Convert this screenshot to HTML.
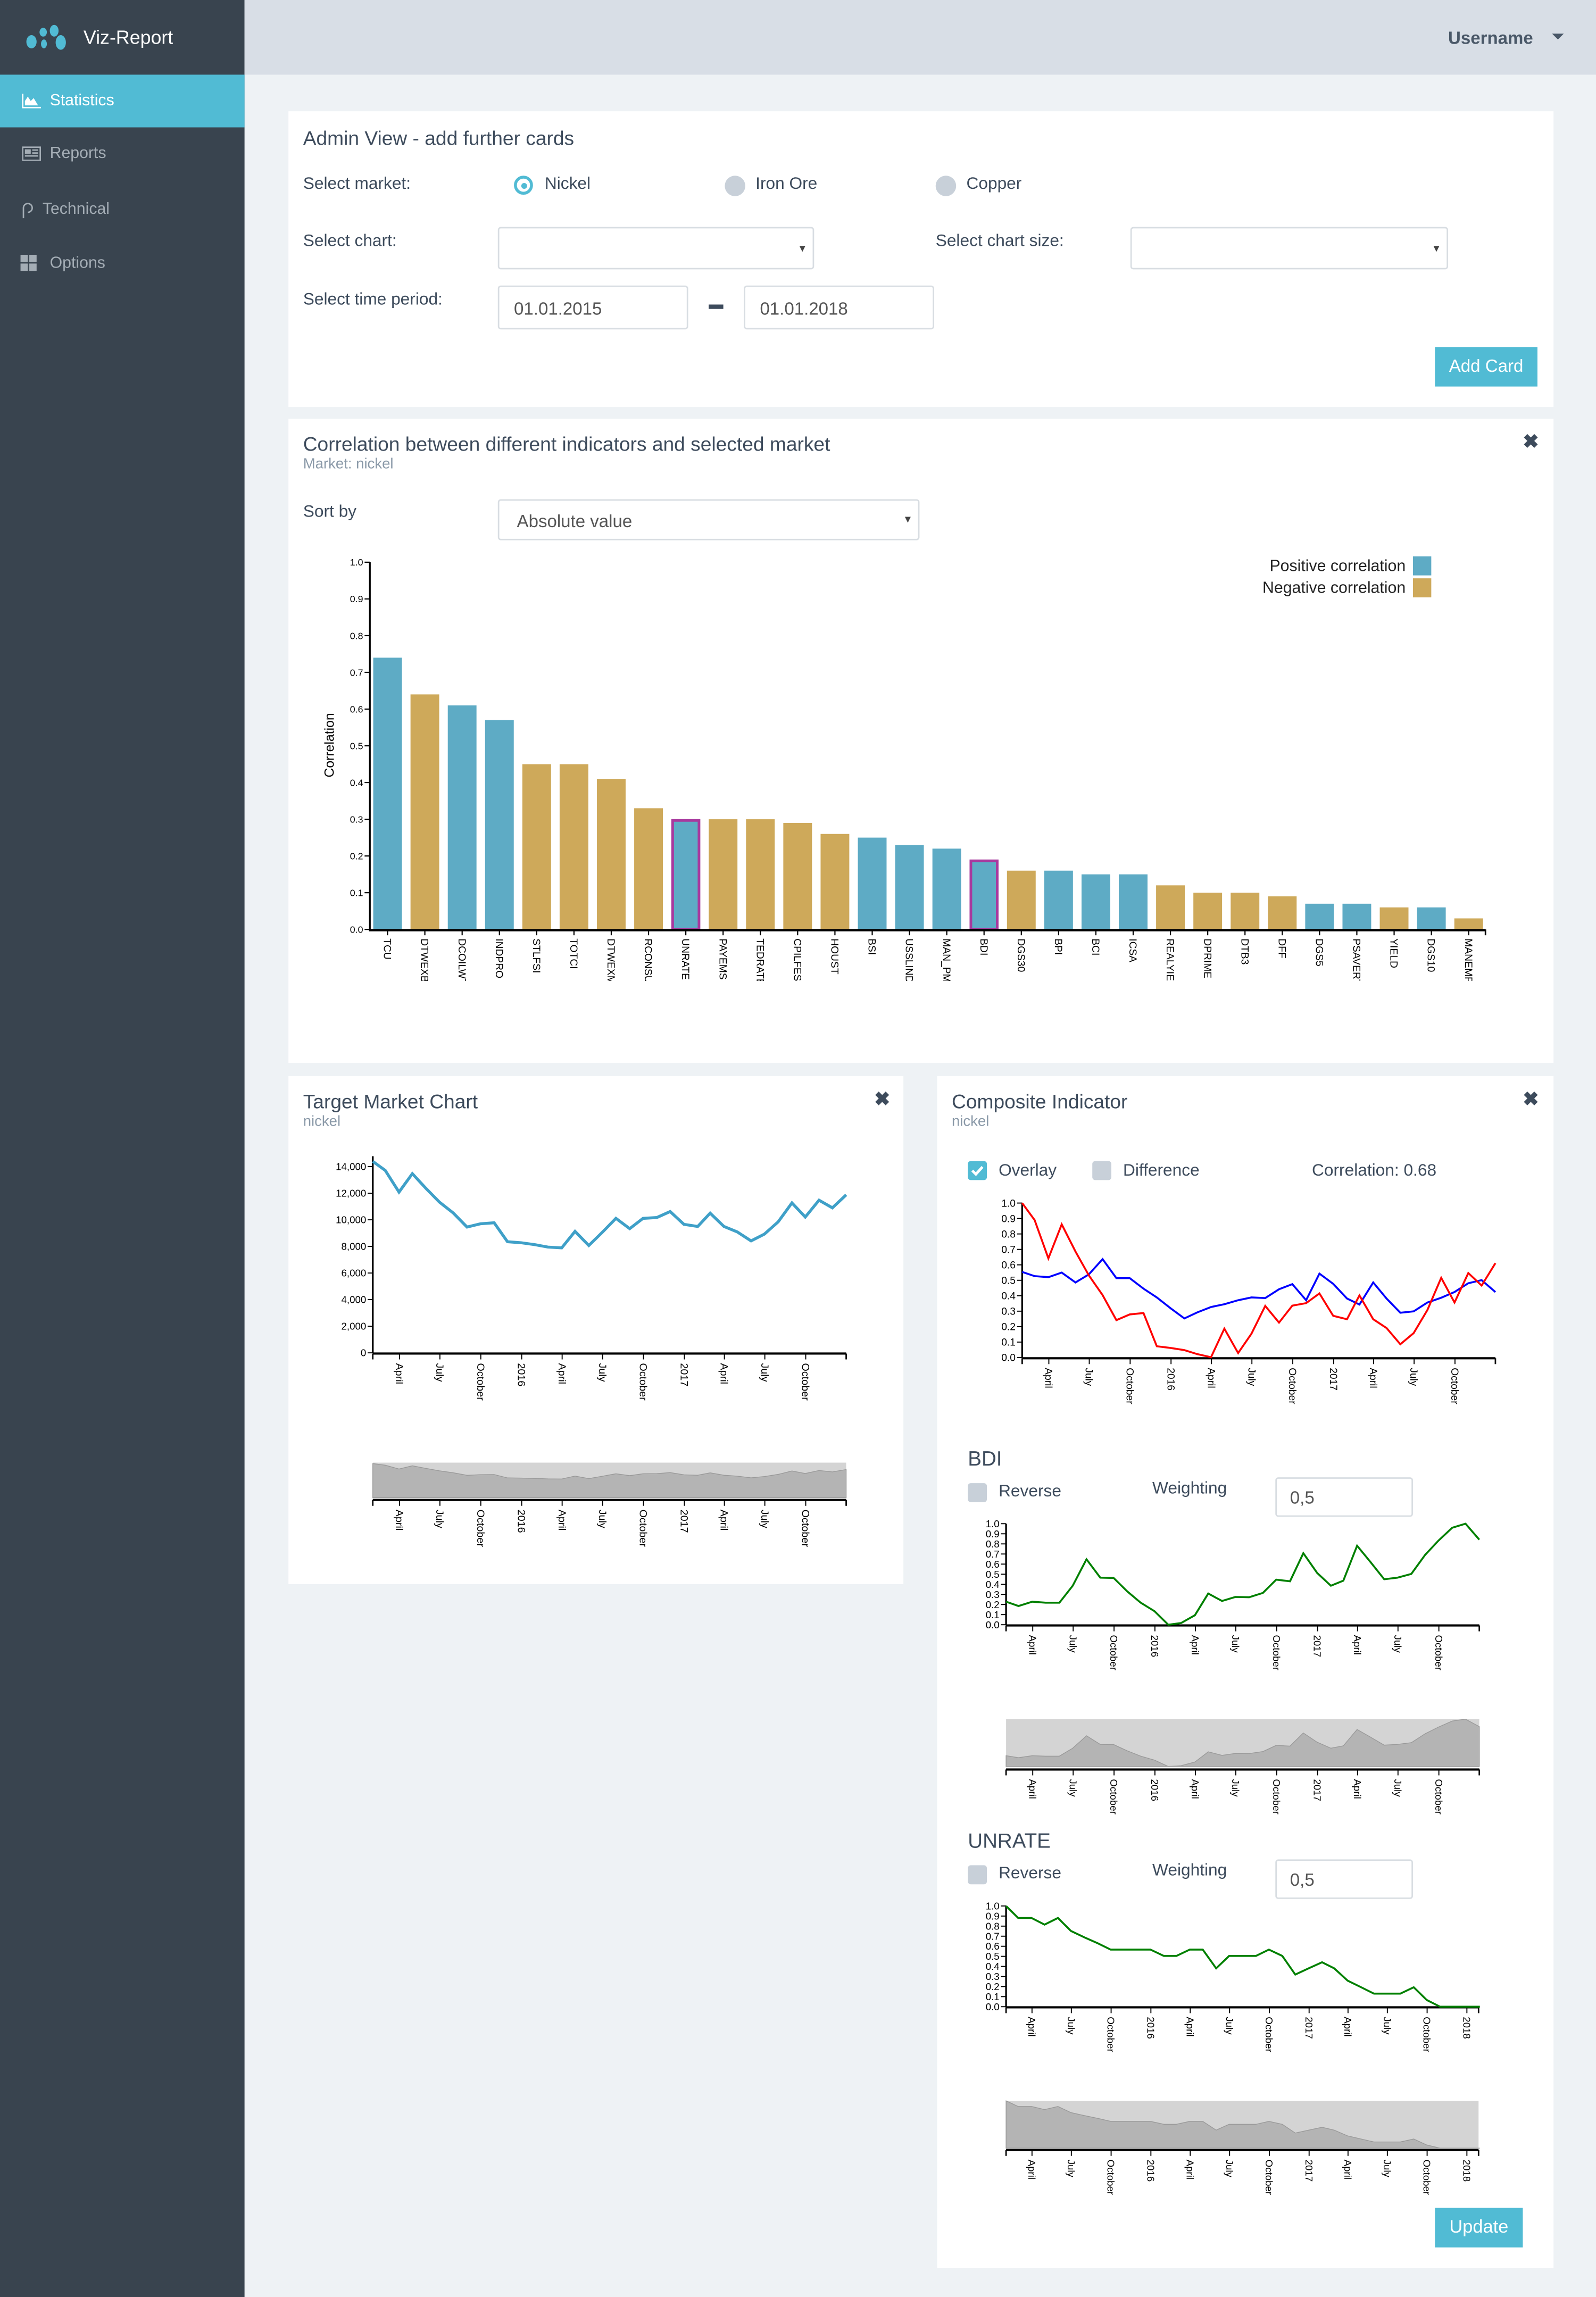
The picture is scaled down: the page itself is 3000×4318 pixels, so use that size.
<!DOCTYPE html>
<html><head><meta charset="utf-8">
<style>
html,body{margin:0;padding:0;width:3000px;height:4316px;overflow:hidden;background:#eef2f5;font-family:"Liberation Sans",sans-serif}
#root{position:absolute;left:0;top:0;width:1090px;height:1568.2px;transform:scale(2.752294);transform-origin:0 0;background:#eef2f5}
.abs{position:absolute}
.side{left:0;top:0;width:167px;height:1569px;background:#39444f}
.top{left:167px;top:0;width:923px;height:51px;background:#d8dee6}
.nav{left:0;width:167px;height:36px;color:#a4adb5;font-size:11px;line-height:36px}
.nav span{position:absolute;left:34px}
.card{background:#fff}
.t{color:#3d4b5c;white-space:nowrap}
.h{font-size:13.5px}
.lab{font-size:11.5px}
.sub{font-size:10px;color:#8a99a8}
.box{border:1px solid #d8dde2;border-radius:2px;background:#fff;box-sizing:border-box;font-size:12px;color:#555}
.caret{position:absolute;right:5px;top:10px;width:0;height:0;border-left:2.5px solid transparent;border-right:2.5px solid transparent;border-top:4px solid #444}
.cb{width:13px;height:13px;border-radius:2px;background:#c8d0d9}
.btn{background:#51bbd4;color:#fff;font-size:12px;text-align:center}
.x{font-size:13px;color:#3d4b5c;font-weight:bold}
svg text{font-family:"Liberation Sans",sans-serif}
</style></head><body>
<div id="root">
<div class="abs side"></div>
<div class="abs" style="left:18px;top:14px;width:35px;height:22px">
 <div class="abs" style="left:0;top:10px;width:7px;height:9px;border-radius:50%;background:#51bbd4"></div>
 <div class="abs" style="left:9px;top:5px;width:5px;height:6px;border-radius:50%;background:#51bbd4"></div>
 <div class="abs" style="left:10px;top:13px;width:4px;height:6px;border-radius:50%;background:#51bbd4"></div>
 <div class="abs" style="left:16px;top:3px;width:6px;height:8px;border-radius:50%;background:#51bbd4"></div>
 <div class="abs" style="left:20px;top:10px;width:7px;height:10px;border-radius:50%;background:#51bbd4"></div>
</div>
<div class="abs" style="left:57px;top:18px;color:#fff;font-size:13px">Viz-Report</div>
<div class="abs nav" style="top:51px;background:#51bbd4;color:#fff"><svg class="abs" style="left:15px;top:13px" width="13" height="10"><path d="M0,0V10H13V9H1V0Z M2,8L2,5L4,2L6,5L8,3L11,8Z" fill="#fff"/></svg><span>Statistics</span></div>
<div class="abs nav" style="top:87px"><svg class="abs" style="left:15px;top:13px" width="13" height="10"><rect x="0.5" y="0.5" width="12" height="9" fill="none" stroke="#a4adb5"/><rect x="2" y="2" width="4" height="3" fill="#a4adb5"/><path d="M7,2.5H11M7,4.5H11M2,6.5H11" stroke="#a4adb5"/></svg><span>Reports</span></div>
<div class="abs nav" style="top:125px"><svg class="abs" style="left:14px;top:12px" width="10" height="13"><path d="M2,12V5A3,3 0 1 1 5,8" fill="none" stroke="#a4adb5"/></svg><span style="left:29px">Technical</span></div>
<div class="abs nav" style="top:162px"><svg class="abs" style="left:14px;top:12px" width="12" height="12"><rect x="0" y="0" width="5" height="5" fill="#a4adb5"/><rect x="6" y="0" width="5" height="5" fill="#a4adb5"/><rect x="0" y="6" width="5" height="5" fill="#a4adb5"/><rect x="6" y="6" width="5" height="5" fill="#a4adb5"/></svg><span>Options</span></div>

<div class="abs top"></div>
<div class="abs t" style="left:989px;top:19px;font-size:12px;font-weight:bold;color:#4a5868">Username</div>
<div class="abs" style="left:1060px;top:23px;border-left:4px solid transparent;border-right:4px solid transparent;border-top:4px solid #4a5868"></div>

<!-- Card 1 -->
<div class="abs card" style="left:197px;top:76px;width:864px;height:202px"></div>
<div class="abs t h" style="left:207px;top:87px">Admin View - add further cards</div>
<div class="abs t lab" style="left:207px;top:120px">Select market:</div>
<div class="abs" style="left:351px;top:120px;width:9px;height:9px;border:2.5px solid #51bbd4;border-radius:50%;background:#fff"><div class="abs" style="left:2.5px;top:2.5px;width:4px;height:4px;border-radius:50%;background:#51bbd4"></div></div>
<div class="abs t lab" style="left:372px;top:120px">Nickel</div>
<div class="abs" style="left:495px;top:120px;width:14px;height:14px;border-radius:50%;background:#c8d0d9"></div>
<div class="abs t lab" style="left:516px;top:120px">Iron Ore</div>
<div class="abs" style="left:639px;top:120px;width:14px;height:14px;border-radius:50%;background:#c8d0d9"></div>
<div class="abs t lab" style="left:660px;top:120px">Copper</div>
<div class="abs t lab" style="left:207px;top:159px">Select chart:</div>
<div class="abs box" style="left:340px;top:155px;width:216px;height:29px"><div class="caret" style="top:12px"></div></div>
<div class="abs t lab" style="left:639px;top:159px">Select chart size:</div>
<div class="abs box" style="left:772px;top:155px;width:217px;height:29px"><div class="caret" style="top:12px"></div></div>
<div class="abs t lab" style="left:207px;top:199px">Select time period:</div>
<div class="abs box" style="left:340px;top:195px;width:130px;height:30px;padding:8px 10px">01.01.2015</div>
<div class="abs" style="left:484px;top:208px;width:10px;height:2.5px;background:#3d4b5c"></div>
<div class="abs box" style="left:508px;top:195px;width:130px;height:30px;padding:8px 10px">01.01.2018</div>
<div class="abs btn" style="left:980px;top:237px;width:70px;height:27px;line-height:27px">Add Card</div>

<!-- Card 2 -->
<div class="abs card" style="left:197px;top:286px;width:864px;height:440px"></div>
<div class="abs t h" style="left:207px;top:296px">Correlation between different indicators and selected market</div>
<div class="abs sub" style="left:207px;top:312px">Market: nickel</div>
<div class="abs x" style="left:1040px;top:294px">✖</div>
<div class="abs t lab" style="left:207px;top:344px">Sort by</div>
<div class="abs box" style="left:340px;top:341px;width:288px;height:28px;padding:7px 12px">Absolute value<div class="caret" style="top:11px"></div></div>

<!-- Card 3 -->
<div class="abs card" style="left:197px;top:735px;width:420px;height:347px"></div>
<div class="abs t h" style="left:207px;top:745px">Target Market Chart</div>
<div class="abs sub" style="left:207px;top:761px">nickel</div>
<div class="abs x" style="left:597px;top:743px">✖</div>

<!-- Card 4 -->
<div class="abs card" style="left:640px;top:735px;width:421px;height:814px"></div>
<div class="abs t h" style="left:650px;top:745px">Composite Indicator</div>
<div class="abs sub" style="left:650px;top:761px">nickel</div>
<div class="abs x" style="left:1040px;top:743px">✖</div>
<div class="abs cb" style="left:661px;top:793px;background:#51bbd4"><svg width="13" height="13" class="abs"><path d="M3,6.5L5.5,9L10,4" stroke="#fff" stroke-width="1.8" fill="none"/></svg></div>
<div class="abs t lab" style="left:682px;top:794px">Overlay</div>
<div class="abs cb" style="left:746px;top:793px"></div>
<div class="abs t lab" style="left:767px;top:794px">Difference</div>
<div class="abs t lab" style="left:896px;top:794px">Correlation: 0.68</div>
<div class="abs t" style="left:661px;top:988px;font-size:14px">BDI</div>
<div class="abs cb" style="left:661px;top:1013px"></div>
<div class="abs t lab" style="left:682px;top:1013px">Reverse</div>
<div class="abs t lab" style="left:787px;top:1011px">Weighting</div>
<div class="abs box" style="left:871px;top:1009px;width:94px;height:27px;padding:6px 9px">0,5</div>
<div class="abs t" style="left:661px;top:1249px;font-size:14px">UNRATE</div>
<div class="abs cb" style="left:661px;top:1274px"></div>
<div class="abs t lab" style="left:682px;top:1274px">Reverse</div>
<div class="abs t lab" style="left:787px;top:1272px">Weighting</div>
<div class="abs box" style="left:871px;top:1270px;width:94px;height:27px;padding:6px 9px">0,5</div>
<div class="abs btn" style="left:980px;top:1508px;width:60px;height:27px;line-height:27px;font-size:12.5px">Update</div>

<svg id="charts" class="abs" style="left:0;top:0" width="1090" height="1569"></svg>
</div>

<script>
// ---------- Correlation bar chart data ----------
const barCategories = ["TCU","DTWEXBGS","DCOILWTICO","INDPRO","STLFSI","TOTCI","DTWEXMAJ","RCONSUMER","UNRATE","PAYEMS","TEDRATE","CPILFESL","HOUST","BSI","USSLIND","MAN_PMI","BDI","DGS30","BPI","BCI","ICSA","REALYIELD","DPRIME","DTB3","DFF","DGS5","PSAVERT","YIELD","DGS10","MANEMP"];
const barValues = [0.74,0.64,0.61,0.57,0.45,0.45,0.41,0.33,0.30,0.30,0.30,0.29,0.26,0.25,0.23,0.22,0.19,0.16,0.16,0.15,0.15,0.12,0.10,0.10,0.09,0.07,0.07,0.06,0.06,0.03];
const barSign = ["pos","neg","pos","pos","neg","neg","neg","neg","pos","neg","neg","neg","neg","pos","pos","pos","pos","neg","pos","pos","pos","neg","neg","neg","neg","pos","pos","neg","pos","neg"];
const barHighlighted = ["UNRATE","BDI"];
const barYTicks = [0,0.1,0.2,0.3,0.4,0.5,0.6,0.7,0.8,0.9,1.0];

// ---------- Time series data (month-end values, starting Jan 2015) ----------
const marketValues = [14390,13715,12085,13470,12350,11330,10515,9455,9700,9780,8355,8275,8130,7950,7890,9130,8070,9050,10110,9335,10110,10170,10620,9660,9500,10500,9500,9090,8415,8925,9845,11270,10210,11475,10900,11880];
const marketYTicks = [0,2000,4000,6000,8000,10000,12000,14000];
const compositeMarket = [0.554,0.527,0.52,0.55,0.486,0.538,0.637,0.514,0.514,0.446,0.389,0.319,0.253,0.292,0.327,0.345,0.371,0.389,0.385,0.442,0.475,0.371,0.543,0.477,0.382,0.343,0.486,0.382,0.29,0.299,0.356,0.387,0.424,0.481,0.501,0.424];
const compositeIndicator = [1.0,0.89,0.642,0.862,0.686,0.532,0.404,0.242,0.279,0.288,0.073,0.062,0.048,0.022,0.002,0.187,0.029,0.154,0.334,0.226,0.336,0.352,0.415,0.27,0.248,0.402,0.248,0.191,0.086,0.158,0.308,0.516,0.356,0.547,0.466,0.611];
const bdiValues = [0.228,0.185,0.228,0.218,0.218,0.386,0.648,0.466,0.463,0.329,0.218,0.134,0,0.017,0.094,0.309,0.235,0.275,0.272,0.315,0.446,0.43,0.708,0.513,0.386,0.436,0.782,0.621,0.45,0.466,0.503,0.691,0.832,0.96,1.0,0.842];
const unrateValues = [1.0,0.881,0.881,0.815,0.881,0.752,0.689,0.63,0.567,0.567,0.567,0.567,0.504,0.504,0.567,0.567,0.381,0.504,0.504,0.504,0.567,0.504,0.319,0.381,0.441,0.381,0.259,0.196,0.13,0.13,0.13,0.193,0.067,0,0,0,0];
const unitYTicks = [0,0.1,0.2,0.3,0.4,0.5,0.6,0.7,0.8,0.9,1.0];
const tickDates = ["2015-04-01","2015-07-01","2015-10-01","2016-01-01","2016-04-01","2016-07-01","2016-10-01","2017-01-01","2017-04-01","2017-07-01","2017-10-01","2018-01-01"];
const tickLabels = ["April","July","October","2016","April","July","October","2017","April","July","October","2018"];

const NS = "http://www.w3.org/2000/svg";
const root = document.getElementById("charts");
function el(tag, attrs, parent){const e=document.createElementNS(NS,tag);for(const k in attrs)e.setAttribute(k,attrs[k]);(parent||root).appendChild(e);return e;}
function lin(d0,d1,r0,r1){return v=>r0+(v-d0)/(d1-d0)*(r1-r0);}
function monthEnd(i){return new Date(Date.UTC(2015,i+1,0));}
function parseD(s){const p=s.split("-");return new Date(Date.UTC(+p[0],+p[1]-1,+p[2]));}

// ---------- Bar chart ----------
(function(){
  const x0=254.9,x1=1018.7,y0=634.8,y1=384;
  const step=(x1-x0)/barCategories.length,bw=step*0.77;
  const y=lin(0,1,y0,y1);
  const g=el("g",{});
  
  
  const defs=el("defs",{});
  const cp=el("clipPath",{id:"lblclip",clipPathUnits:"userSpaceOnUse"},defs);
  el("rect",{x:-2,y:-10,width:31,height:20},cp);
  barCategories.forEach((c,i)=>{
    const v=barValues[i],bx=x0+i*step,hl=barHighlighted.indexOf(c)>=0;
    const r=el("rect",{x:bx,y:y(v),width:bw,height:y0-y(v),fill:barSign[i]==="pos"?"#5eabc5":"#cea95a"},g);
    
    
    if(hl){
      const h=el("rect",{x:bx+0.8,y:y(v)+0.8,width:bw-1.6,height:y0-y(v)-0.8,fill:"none",stroke:"#a8399e","stroke-width":1.8},g);
      
      
    }
    const cx=bx+bw/2;
    el("line",{x1:cx,x2:cx,y1:y0,y2:y0+4,stroke:"#000","stroke-width":0.8},g);
    const t=el("text",{x:0,y:0,transform:`translate(${cx-2.5},641) rotate(90)`,"font-size":7,fill:"#000","clip-path":"url(#lblclip)"},g);
    t.textContent=c;
    
    
  });
  barYTicks.forEach(v=>{
    el("line",{x1:249,x2:252.6,y1:y(v),y2:y(v),stroke:"#000","stroke-width":0.8},g);
    const t=el("text",{x:248,y:y(v)+2.3,"font-size":6.5,"text-anchor":"end",fill:"#000"},g);
    t.textContent=v.toFixed(1);
    
    
  });
  const ya=el("line",{x1:252.6,x2:252.6,y1:y1,y2:y0+1,stroke:"#000","stroke-width":1.2},g);
  
  
  const xa=el("line",{x1:252,x2:1014.5,y1:y0+0.5,y2:y0+0.5,stroke:"#000","stroke-width":1.6},g);
  
  
  el("line",{x1:1014.5,x2:1014.5,y1:y0,y2:y0+4,stroke:"#000","stroke-width":1},g);
  const yl=el("text",{transform:"translate(228,509) rotate(-90)","font-size":9,"text-anchor":"middle",fill:"#000"},g);
  yl.textContent="Correlation";
  
  
  [["Positive correlation","#5eabc5",380],["Negative correlation","#cea95a",395]].forEach(L=>{
    const lt=el("text",{x:960,y:L[2]+10,"font-size":11,"text-anchor":"end",fill:"#222"},g);
    lt.textContent=L[0];
    
    
    const ls=el("rect",{x:965,y:L[2],width:12.5,height:13,fill:L[1]},g);
    
    
  });
})();

// ---------- Time chart helpers ----------
function timeAxis(g,x,x0,x1,yA,endDate,fs){
  el("line",{x1:x0,x2:x1,y1:yA,y2:yA,stroke:"#000","stroke-width":1.5},g);
  el("line",{x1:x0,x2:x0,y1:yA,y2:yA+4,stroke:"#000","stroke-width":1},g);
  el("line",{x1:x1,x2:x1,y1:yA,y2:yA+4,stroke:"#000","stroke-width":1},g);
  tickDates.forEach((d,i)=>{
    const dt=parseD(d); if(dt>endDate) return;
    const tx=x(dt);
    el("line",{x1:tx,x2:tx,y1:yA,y2:yA+4,stroke:"#000","stroke-width":0.7},g);
    const t=el("text",{transform:`translate(${tx-2.5},${yA+6.5}) rotate(90)`,"font-size":fs,fill:"#000"},g);
    t.textContent=tickLabels[i];
    
    
  });
}
function yAxis(g,x0,y,y0,yTop,ticks,fmt,fs){
  el("line",{x1:x0,x2:x0,y1:yTop,y2:y0,stroke:"#000","stroke-width":1.2},g);
  ticks.forEach(v=>{
    el("line",{x1:x0-3.5,x2:x0,y1:y(v),y2:y(v),stroke:"#000","stroke-width":0.7},g);
    const t=el("text",{x:x0-4.5,y:y(v)+fs*0.35,"font-size":fs,"text-anchor":"end",fill:"#000"},g);
    t.textContent=fmt(v);
    
    
  });
}
function pathOf(vals,x,y){return vals.map((v,i)=>(i?"L":"M")+x(monthEnd(i)).toFixed(2)+","+y(v).toFixed(2)).join("");}
function brush(g,vals,x,x0,x1,top,bot,max){
  el("rect",{x:x0,y:top,width:x1-x0,height:bot-top,fill:"#d4d4d4"},g);
  const yb=lin(0,max,bot,top);
  const p=pathOf(vals,x,yb)+`L${x(monthEnd(vals.length-1))},${bot}L${x0},${bot}Z`;
  const a=el("path",{d:p,fill:"#b4b4b4",stroke:"#999","stroke-width":0.5},g);
  
  
}

// ---------- Target market chart ----------
(function(){
  const g=el("g",{});
  
  
  const d0=monthEnd(0),d1=monthEnd(marketValues.length-1);
  const x=lin(d0,d1,254.6,577.9);
  const y=lin(0,14782,924,789.7);
  yAxis(g,254.6,y,924,789.7,marketYTicks,v=>v.toLocaleString("en-US"),6.8);
  timeAxis(g,x,254.6,577.9,924.5,d1,7.2);
  const l=el("path",{d:pathOf(marketValues,x,y),fill:"none",stroke:"#3fa0c8","stroke-width":2},g);
  
  
  brush(g,marketValues,x,254.6,577.9,999,1023,14782);
  timeAxis(g,x,254.6,577.9,1024.5,d1,7.2);
})();

// ---------- Composite chart ----------
(function(){
  const g=el("g",{});
  
  
  const d0=monthEnd(0),d1=monthEnd(compositeMarket.length-1);
  const x=lin(d0,d1,698.1,1021.3);
  const y=lin(0,1,927.2,821.7);
  yAxis(g,698.1,y,927.2,821.7,unitYTicks,v=>v.toFixed(1),7);
  timeAxis(g,x,698.1,1021.3,927.7,d1,7);
  const b=el("path",{d:pathOf(compositeMarket,x,y),fill:"none",stroke:"#0000ff","stroke-width":1.3},g);
  
  
  const r=el("path",{d:pathOf(compositeIndicator,x,y),fill:"none",stroke:"#ff0000","stroke-width":1.3},g);
  
  
})();

// ---------- BDI ----------
(function(){
  const g=el("g",{});
  
  
  const d0=monthEnd(0),d1=monthEnd(bdiValues.length-1);
  const x=lin(d0,d1,687.1,1010.3);
  const y=lin(0,1,1109.7,1040.7);
  yAxis(g,687.1,y,1109.7,1040.7,unitYTicks,v=>v.toFixed(1),6.8);
  timeAxis(g,x,687.1,1010.3,1110.2,d1,6.8);
  const l=el("path",{d:pathOf(bdiValues,x,y),fill:"none",stroke:"#008000","stroke-width":1.3},g);
  
  
  brush(g,bdiValues,x,687.1,1010.3,1174.2,1206.5,1);
  timeAxis(g,x,687.1,1010.3,1208.6,d1,6.8);
})();

// ---------- UNRATE ----------
(function(){
  const g=el("g",{});
  
  
  const d0=monthEnd(0),dl=monthEnd(unrateValues.length-1);
  const x=lin(d0,new Date(dl.getTime()-3*86400000),687.1,1009.8);
  const y=lin(0,1,1370.6,1301.8);
  yAxis(g,687.1,y,1370.6,1301.8,unitYTicks,v=>v.toFixed(1),6.8);
  timeAxis(g,x,687.1,1009.8,1371,dl,6.8);
  const l=el("path",{d:pathOf(unrateValues,x,y),fill:"none",stroke:"#008000","stroke-width":1.3},g);
  
  
  brush(g,unrateValues,x,687.1,1009.8,1434.9,1467.2,1);
  timeAxis(g,x,687.1,1009.8,1468.5,dl,6.8);
})();
</script>
</body></html>
